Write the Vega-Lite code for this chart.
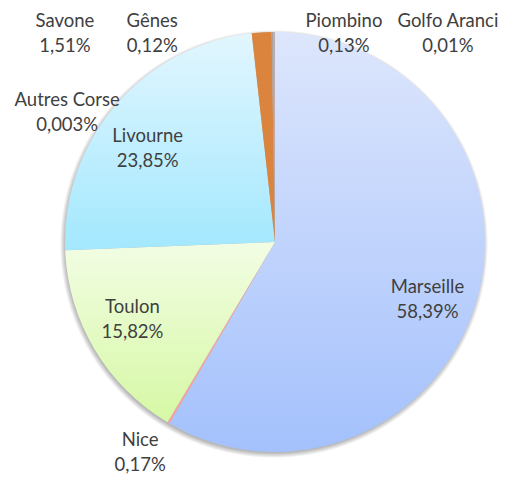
{
  "$schema": "https://vega.github.io/schema/vega-lite/v6.json",
  "width": 476,
  "height": 476,
  "padding": {"left": 37, "top": 4, "right": 0, "bottom": 0},
  "autosize": {"type": "none"},
  "background": "white",
  "config": {"view": {"stroke": null}, "text": {"font": "Lato", "fontSize": 18.5, "color": "#404040", "lineHeight": 25}},
  "data": {"values": [
    {"ord": 1, "name": "Marseille", "value": 58.39, "label": "Marseille\n58,39%"},
    {"ord": 2, "name": "Nice", "value": 0.17, "label": "Nice\n0,17%"},
    {"ord": 3, "name": "Toulon", "value": 15.82, "label": "Toulon\n15,82%"},
    {"ord": 4, "name": "Autres Corse", "value": 0.003, "label": "Autres Corse\n0,003%"},
    {"ord": 5, "name": "Livourne", "value": 23.85, "label": "Livourne\n23,85%"},
    {"ord": 6, "name": "Savone", "value": 1.51, "label": "Savone\n1,51%"},
    {"ord": 7, "name": "Gênes", "value": 0.12, "label": "Gênes\n0,12%"},
    {"ord": 8, "name": "Piombino", "value": 0.13, "label": "Piombino\n0,13%"},
    {"ord": 9, "name": "Golfo Aranci", "value": 0.01, "label": "Golfo Aranci\n0,01%"}
  ]},
  "layer": [
    {
      "data": {"values": [{"k": 1}]},
      "mark": {"type": "arc", "theta": 0, "theta2": 6.2832, "outerRadius": 214, "xOffset": -1, "yOffset": 2,
        "fill": {"gradient": "radial", "x1": 0.5, "y1": 0.5, "x2": 0.5, "y2": 0.5, "r1": 0, "r2": 0.5,
          "stops": [{"offset": 0, "color": "#b0b0b0"}, {"offset": 0.975, "color": "#b8b8b8"}, {"offset": 1, "color": "#ffffff"}]}},
      "encoding": {}
    },
    {
      "mark": {"type": "arc", "outerRadius": 210},
      "encoding": {
        "theta": {"field": "value", "type": "quantitative", "stack": true},
        "order": {"field": "ord", "type": "quantitative"},
        "color": {
          "condition": [
            {"test": "datum.name === 'Marseille'", "value": {"gradient": "linear", "x1": 0, "y1": 0, "x2": 0, "y2": 1, "stops": [{"offset": 0, "color": "#dde6fc"}, {"offset": 1, "color": "#a4c1fc"}]}},
            {"test": "datum.name === 'Toulon'", "value": {"gradient": "linear", "x1": 0, "y1": 0, "x2": 0, "y2": 1, "stops": [{"offset": 0, "color": "#f2fde4"}, {"offset": 1, "color": "#d6f8a4"}]}},
            {"test": "datum.name === 'Livourne'", "value": {"gradient": "linear", "x1": 0, "y1": 0, "x2": 0, "y2": 1, "stops": [{"offset": 0, "color": "#e2f6fe"}, {"offset": 1, "color": "#a3e8fe"}]}}
          ],
          "field": "name", "type": "nominal", "legend": null,
          "scale": {
            "domain": ["Marseille", "Nice", "Toulon", "Autres Corse", "Livourne", "Savone", "Gênes", "Piombino", "Golfo Aranci"],
            "range": ["#c0d3fb", "#f4a3a0", "#e4fac4", "#c8c8c8", "#c2effe", "#da843e", "#a5a5a5", "#c9a8a8", "#a5a5a5"]
          }
        }
      }
    },
    {
      "mark": {"type": "text", "radius": 160, "dx": -2, "dy": 3.5, "align": "center", "baseline": "middle", "lineBreak": "\n"},
      "encoding": {
        "theta": {"field": "value", "type": "quantitative", "stack": true},
        "order": {"field": "ord", "type": "quantitative"},
        "text": {"condition": {"test": "datum.name === 'Marseille'", "field": "label"}, "value": ""}
      }
    },
    {
      "mark": {"type": "text", "radius": 160, "dx": -5, "dy": -16.5, "align": "center", "baseline": "middle", "lineBreak": "\n"},
      "encoding": {
        "theta": {"field": "value", "type": "quantitative", "stack": true},
        "order": {"field": "ord", "type": "quantitative"},
        "text": {"condition": {"test": "datum.name === 'Toulon'", "field": "label"}, "value": ""}
      }
    },
    {
      "mark": {"type": "text", "radius": 160, "dx": -6, "dy": -1.5, "align": "center", "baseline": "middle", "lineBreak": "\n"},
      "encoding": {
        "theta": {"field": "value", "type": "quantitative", "stack": true},
        "order": {"field": "ord", "type": "quantitative"},
        "text": {"condition": {"test": "datum.name === 'Livourne'", "field": "label"}, "value": ""}
      }
    },
    {
      "mark": {"type": "text", "radius": 250, "dx": -8, "dy": -17.5, "align": "center", "baseline": "middle", "lineBreak": "\n"},
      "encoding": {
        "theta": {"field": "value", "type": "quantitative", "stack": true},
        "order": {"field": "ord", "type": "quantitative"},
        "text": {"condition": {"test": "datum.name === 'Nice'", "field": "label"}, "value": ""}
      }
    },
    {
      "mark": {"type": "text", "radius": 220, "dx": 12, "dy": -150.5, "align": "center", "baseline": "middle", "lineBreak": "\n"},
      "encoding": {
        "theta": {"field": "value", "type": "quantitative", "stack": true},
        "order": {"field": "ord", "type": "quantitative"},
        "text": {"condition": {"test": "datum.name === 'Autres Corse'", "field": "label"}, "value": ""}
      }
    },
    {
      "mark": {"type": "text", "radius": 220, "dx": -196, "dy": -1.5, "align": "center", "baseline": "middle", "lineBreak": "\n"},
      "encoding": {
        "theta": {"field": "value", "type": "quantitative", "stack": true},
        "order": {"field": "ord", "type": "quantitative"},
        "text": {"condition": {"test": "datum.name === 'Savone'", "field": "label"}, "value": ""}
      }
    },
    {
      "mark": {"type": "text", "radius": 220, "dx": -120, "dy": -1, "align": "center", "baseline": "middle", "lineBreak": "\n"},
      "encoding": {
        "theta": {"field": "value", "type": "quantitative", "stack": true},
        "order": {"field": "ord", "type": "quantitative"},
        "text": {"condition": {"test": "datum.name === 'Gênes'", "field": "label"}, "value": ""}
      }
    },
    {
      "mark": {"type": "text", "radius": 220, "dx": 70, "dy": -1, "align": "center", "baseline": "middle", "lineBreak": "\n"},
      "encoding": {
        "theta": {"field": "value", "type": "quantitative", "stack": true},
        "order": {"field": "ord", "type": "quantitative"},
        "text": {"condition": {"test": "datum.name === 'Piombino'", "field": "label"}, "value": ""}
      }
    },
    {
      "mark": {"type": "text", "radius": 220, "dx": 173, "dy": -1, "align": "center", "baseline": "middle", "lineBreak": "\n"},
      "encoding": {
        "theta": {"field": "value", "type": "quantitative", "stack": true},
        "order": {"field": "ord", "type": "quantitative"},
        "text": {"condition": {"test": "datum.name === 'Golfo Aranci'", "field": "label"}, "value": ""}
      }
    }
  ]
}
